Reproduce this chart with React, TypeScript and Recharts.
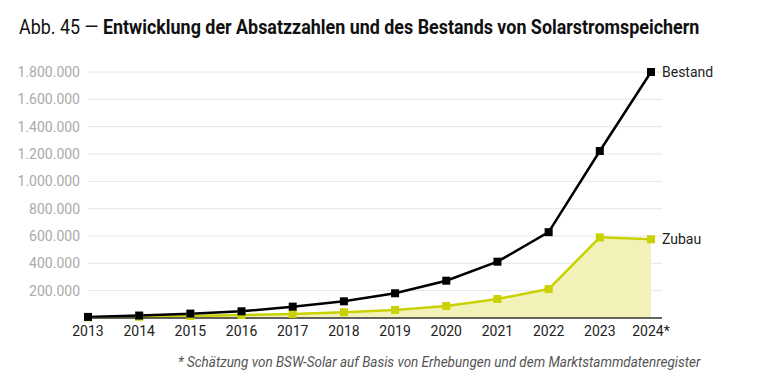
import { ComposedChart, Line, Area, XAxis, YAxis, CartesianGrid } from 'recharts';

// Jahre (2024 geschätzt)
const years = ['2013', '2014', '2015', '2016', '2017', '2018', '2019', '2020', '2021', '2022', '2023', '2024*'];
// Bestand an Solarstromspeichern
const bestand = [8000, 18000, 32000, 49000, 83000, 122000, 181000, 273000, 412000, 628000, 1222000, 1800000];
// jährlicher Zubau
const zubau = [5000, 9000, 15000, 22000, 29000, 42000, 59000, 88000, 139000, 212000, 590000, 576000];
const yTicks = [200000, 400000, 600000, 800000, 1000000, 1200000, 1400000, 1600000, 1800000];

const data = years.map((year, i) => ({ year, bestand: bestand[i], zubau: zubau[i] }));

const YELLOW = '#c9d200';
const FILL = '#f2f2b8';

const fmt = (v: number) => v.toLocaleString('de-DE');

const Square = (color: string) => (props: any) => {
  const { cx, cy, index } = props;
  if (cx == null || cy == null) return <g key={index} />;
  return <rect key={index} x={cx - 4} y={cy - 4} width={8} height={8} fill={color} />;
};

const endLabel = (text: string) => (props: any) => {
  const { x, y, index } = props;
  if (index !== years.length - 1) return null;
  return (
    <text x={x + 11} y={y} dy={5} fontSize={14} fill="#222" fontFamily="Roboto">
      {text}
    </text>
  );
};

export default function App() {
  return (
    <div style={{ position: 'absolute', left: 0, top: 0, width: 760, height: 386, background: '#fff', fontFamily: 'Roboto' }}>
      <div
        style={{
          position: 'absolute',
          left: 19,
          top: 15,
          fontSize: 20,
          color: '#111',
          whiteSpace: 'nowrap',
          transform: 'scaleX(0.895)',
          transformOrigin: 'left top',
        }}
      >
        Abb. 45 — <b>Entwicklung der Absatzzahlen und des Bestands von Solarstromspeichern</b>
      </div>
      <ComposedChart
        width={760}
        height={386}
        data={data}
        margin={{ top: 72, right: 98, bottom: 38, left: 0 }}
      >
        <CartesianGrid horizontal vertical={false} stroke="#e6e6e6" />
        <XAxis
          dataKey="year"
          axisLine={{ stroke: '#333', strokeWidth: 1.5 }}
          tickLine={false}
          tick={{ fill: '#222', fontSize: 14 }}
          height={30}
          padding={{ left: 0, right: 11 }}
          interval={0}
        />
        <YAxis
          domain={[0, 1800000]}
          ticks={yTicks}
          width={88}
          axisLine={false}
          tickLine={false}
          tickFormatter={fmt}
          tick={{ fill: '#aaa', fontSize: 14 }}
        />
        <Area
          type="linear"
          dataKey="zubau"
          stroke={YELLOW}
          strokeWidth={2.5}
          fill={FILL}
          fillOpacity={1}
          dot={Square(YELLOW)}
          activeDot={false}
          label={endLabel('Zubau')}
          isAnimationActive={false}
        />
        <Line
          type="linear"
          dataKey="bestand"
          stroke="#000"
          strokeWidth={2.5}
          dot={Square('#000')}
          activeDot={false}
          label={endLabel('Bestand')}
          isAnimationActive={false}
        />
      </ComposedChart>
      <div
        style={{
          position: 'absolute',
          left: 178,
          top: 354,
          fontSize: 14,
          fontStyle: 'italic',
          color: '#555',
          whiteSpace: 'nowrap',
          transform: 'scaleX(0.963)',
          transformOrigin: 'left top',
        }}
      >
        * Schätzung von BSW-Solar auf Basis von Erhebungen und dem Marktstammdatenregister
      </div>
    </div>
  );
}
